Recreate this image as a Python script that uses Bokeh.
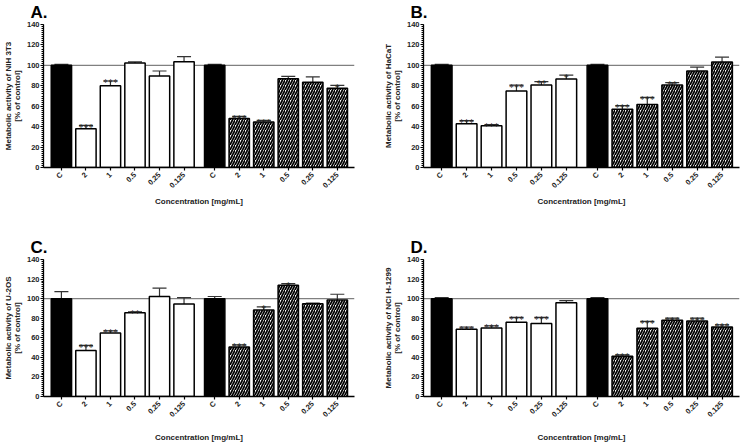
import math
from bokeh.plotting import figure
from bokeh.models import (FixedTicker, SingleIntervalTicker, Span, Title, ColumnDataSource,
                          Whisker, TeeHead, Range1d)
from bokeh.layouts import row, column
from bokeh.embed import file_html
from bokeh.resources import INLINE

# ---------------- data ----------------
doses = ["C", "2", "1", "0.5", "0.25", "0.125"]
tick_labels = doses + doses
group_of_bar = [0] * 6 + [1] * 6

# Panel A: NIH 3T3
a_vals = [100, 38, 80, 102.4, 89.5, 103.5, 100, 48, 44.5, 87, 83.5, 77.5]
a_err = [1, 3.3, 4.7, 1, 5, 5, 1, 2, 1.6, 2.3, 5.2, 3]
a_sig = ["", "***", "***", "", "", "", "", "***", "***", "", "", "*"]

# Panel B: HaCaT
b_vals = [100, 42.8, 40.8, 75, 80.8, 86.7, 100, 57, 61.8, 80.8, 94.5, 103.4]
b_err = [1, 3, 1.3, 5.6, 3.3, 3.7, 1, 3.6, 6.8, 2.3, 3.8, 4.6]
b_sig = ["", "***", "***", "***", "**", "*", "", "***", "***", "**", "", ""]

# Panel C: U-2OS
c_vals = [100, 47, 65, 85.6, 102.2, 94.5, 100, 50.5, 88.5, 113.6, 94.8, 98.7]
c_err = [7.1, 5.2, 2.2, 1.0, 8.5, 6.5, 2.2, 2.2, 3, 1.7, 0.6, 5.8]
c_sig = ["", "***", "***", "**", "", "", "", "***", "*", "*", "", ""]

# Panel D: NCI H-1299
d_vals = [100, 68.7, 70, 75.9, 74.6, 95.7, 100, 41.2, 69.7, 77.8, 77.2, 71]
d_err = [1, 2.3, 2.3, 4.9, 6.2, 2.3, 1, 1.4, 7, 2.3, 2.9, 2.3]
d_sig = ["", "***", "***", "***", "***", "", "", "***", "***", "***", "***", "***"]

FONT = "Liberation Sans"
GAP = 0.25


def make_panel(letter, ylabel, vals, errs, sigs, width, height, mb_left, mb_right,
               mb_top, mb_bottom, xlabel_standoff, title_offset):
    xs = [i + GAP * g for i, g in enumerate(group_of_bar)]
    fills = ["black" if d == "C" else "white" for d in tick_labels]
    hatches = ["/" if (g == 1 and d != "C") else " " for g, d in zip(group_of_bar, tick_labels)]
    src = ColumnDataSource(dict(
        x=xs, top=vals, upper=[v + e for v, e in zip(vals, errs)],
        sig=sigs, fill=fills, hatch=hatches))

    p = figure(width=width, height=height, output_backend="svg", toolbar_location=None,
               x_range=Range1d(-0.73, 11.95), y_range=Range1d(0, 140),
               min_border_left=mb_left, min_border_right=mb_right,
               min_border_top=mb_top, min_border_bottom=mb_bottom)
    p.outline_line_color = None
    p.xgrid.visible = False
    p.ygrid.visible = False
    p.background_fill_color = "white"

    p.add_layout(Title(text=letter, align="left", offset=title_offset, standoff=1,
                       vertical_align="top",
                       text_font=FONT, text_font_style="bold", text_font_size="17px",
                       text_line_height=1.0, text_color="black"), "above")

    p.add_layout(Span(location=100, dimension="width", line_color="#808080",
                      line_width=1.3, level="underlay"))

    p.vbar(x="x", top="top", bottom=0, width=0.83, source=src,
           fill_color="fill", line_color="black", line_width=1.5,
           hatch_pattern="hatch", hatch_color="black", hatch_scale=5, hatch_weight=1.7)

    p.add_layout(Whisker(base="x", lower="top", upper="upper", source=src,
                         line_color="#333333", line_width=1.2,
                         upper_head=TeeHead(size=14, line_color="#333333", line_width=1.2),
                         lower_head=None))

    p.text(x="x", y="upper", text="sig", source=src, text_align="center",
           text_baseline="alphabetic", y_offset=2, text_font_size="10px",
           text_font=FONT, text_color="#222222")

    # axes
    yax = p.yaxis[0]
    yax.ticker = SingleIntervalTicker(interval=20, num_minor_ticks=10)
    yax.axis_label = ylabel
    for ax in (p.xaxis[0], yax):
        ax.axis_line_width = 1.3
        ax.axis_line_color = "black"
        ax.major_tick_line_color = "black"
        ax.major_tick_line_width = 1.2
        ax.major_tick_in = 0
        ax.major_tick_out = 3
        ax.major_label_text_font = FONT
        ax.major_label_text_font_style = "bold"
        ax.major_label_text_font_size = "7.5px"
        ax.major_label_text_color = "#222222"
        ax.axis_label_text_font = FONT
        ax.axis_label_text_font_style = "bold"
        ax.axis_label_text_font_size = "8px"
        ax.axis_label_text_color = "#222222"
    yax.minor_tick_in = 0
    yax.minor_tick_out = 2
    yax.minor_tick_line_color = "black"
    yax.major_label_standoff = 1
    yax.axis_label_standoff = 2
    yax.axis_label_text_line_height = 1.0

    xax = p.xaxis[0]
    xax.ticker = FixedTicker(ticks=xs)
    xax.minor_tick_line_color = None
    xax.major_label_overrides = {float(x): lab for x, lab in zip(xs, tick_labels)}
    xax.major_label_orientation = math.pi / 4
    xax.major_label_standoff = 3
    xax.axis_label = "Concentration [mg/mL]"
    xax.axis_label_standoff = xlabel_standoff
    return p


pA = make_panel("A.", "Metabolic activity of NIH 3T3\n[% of control]", a_vals, a_err, a_sig,
                380, 230, 32, 26, 24, 63, 1, -13)
pB = make_panel("B.", "Metabolic activity of HaCaT\n[% of control]", b_vals, b_err, b_sig,
                363, 230, 40, 4, 24, 63, 1, -13)
pC = make_panel("C.", "Metabolic activity of U-2OS\n[% of control]", c_vals, c_err, c_sig,
                380, 215, 34, 26, 29, 44, 8, -13)
pD = make_panel("D.", "Metabolic activity of NCI H-1299\n[% of control]", d_vals, d_err, d_sig,
                363, 215, 39, 4, 29, 44, 8, -13)

layout = column(row(pA, pB), row(pC, pD))
open("out.html", "w").write(file_html(layout, INLINE))
